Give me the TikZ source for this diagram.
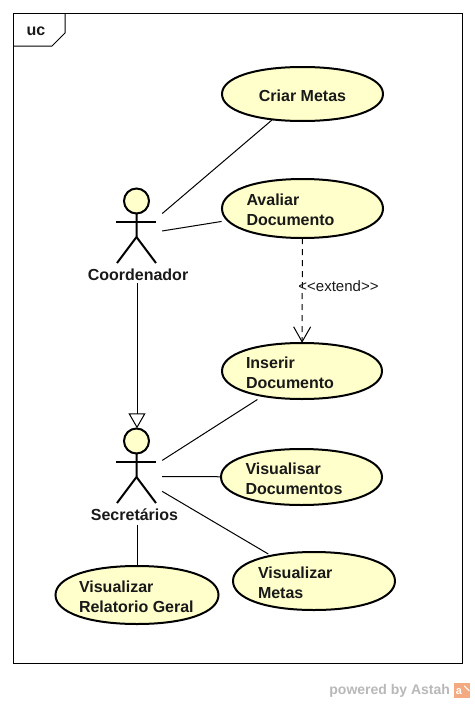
\documentclass[tikz,border=0pt]{standalone}
\usepackage{fontspec}
\setmainfont{Liberation Sans}
\usetikzlibrary{arrows.meta,shapes.geometric}
\definecolor{ucfill}{HTML}{FFFFCC}
\definecolor{logoc}{HTML}{F4AA80}
\definecolor{wmark}{HTML}{B8B8B8}
\tikzset{
  x=1pt,y=-1pt,
  lbl/.style={font=\fontsize{16}{20}\selectfont\bfseries,text=black!90},
  ucase/.style={ellipse,draw=none,inner sep=0pt},
  uctext/.style={inner sep=0pt,align=left,lbl},
  ucpath/.style={draw=black,line width=2pt,fill=ucfill},
  actorbox/.style={draw=none,minimum width=50pt,minimum height=96pt,inner sep=0pt},
  assoc/.style={line width=1pt,draw=black},
  limb/.style={line width=2pt,draw=black},
}
% use case: name, centre x, centre y, half width, half height, text
\newcommand{\ucnode}[6]{%
  \pgfmathsetmacro{\kx}{0.6*#4}\pgfmathsetmacro{\ky}{0.6*#5}%
  \path[ucpath] (#2-#4,#3) .. controls (#2-#4,#3-\ky) and (#2-\kx,#3-#5) .. (#2,#3-#5)
     .. controls (#2+\kx,#3-#5) and (#2+#4,#3-\ky) .. (#2+#4,#3)
     .. controls (#2+#4,#3+\ky) and (#2+\kx,#3+#5) .. (#2,#3+#5)
     .. controls (#2-\kx,#3+#5) and (#2-#4,#3+\ky) .. cycle;
  \node[ucase,minimum width=2*#4 pt,minimum height=2*#5 pt] (#1) at (#2,#3) {};
  \node[uctext] (#1t) at (#2,#3+1.5) {#6};}
\begin{document}
\begin{tikzpicture}
\useasboundingbox (0,0) rectangle (474,704);
\draw[line width=1pt] (13,13) rectangle (462,663);
\draw[line width=1pt] (13,46) -- (52,46) -- (65,33) -- (65,13);
\node[lbl] (uc) at (36,31.5) {uc};

\ucnode{criar}{302.5}{94}{80.5}{27}{Criar Metas}
\ucnode{avaliar}{302.5}{208.5}{80.5}{29.5}{\makebox[112pt][l]{Avaliar}\\\makebox[112pt][l]{Documento}}
\ucnode{inserir}{302}{371}{80}{28}{\makebox[112pt][l]{Inserir}\\\makebox[112pt][l]{Documento}}
\ucnode{vdocs}{301.5}{477}{80.5}{28}{\makebox[112pt][l]{Visualisar}\\\makebox[112pt][l]{Documentos}}
\ucnode{vmetas}{314}{581}{81}{29}{\makebox[112pt][l]{Visualizar}\\\makebox[112pt][l]{Metas}}
\ucnode{vrel}{137}{595}{81.5}{29}{\makebox[116pt][l]{Visualizar}\\\makebox[116pt][l]{Relatorio Geral}}

\node[actorbox] (coord) at (137,235) {};
\node[actorbox] (sec) at (137,476.5) {};

% Coordenador figure
\draw[limb,fill=ucfill] (136.5,201) circle (12.5);
\draw[limb] (136.5,213.5) -- (136.5,237) -- (117,263);
\draw[limb] (136.5,237) -- (156,263);
\draw[limb] (116,222) -- (156,222);
\node[lbl] (coordl) at (138,275) {Coordenador};

% Secretarios figure
\draw[limb,fill=ucfill] (136.5,441) circle (12.5);
\draw[limb] (136.5,453.5) -- (136.5,477) -- (117,503);
\draw[limb] (136.5,477) -- (156,503);
\draw[limb] (116,462) -- (156,462);
\node[lbl] (secl) at (134.5,515) {Secretários};

\draw[assoc,shorten >=1pt] (coord) -- (criar);
\draw[assoc,shorten >=7pt] (coord) -- (avaliar);
\draw[assoc,shorten >=7pt] (sec) -- (inserir);
\draw[assoc] (sec) -- (vdocs);
\draw[assoc,shorten >=4pt] (sec) -- (vmetas);
\draw[assoc] (sec) -- (vrel);
\draw[assoc,-{Triangle[open,length=15pt,width=17pt,line width=1pt]}] (coord) -- (sec);
\draw[assoc,dash pattern=on 6pt off 5pt,-{Straight Barb[length=15pt,width=17pt,line width=1pt]}] (avaliar) -- (inserir);
\node[font=\fontsize{15}{16}\selectfont,text=black!90] (ext) at (338.5,286) {<{}<extend>{}>};

\node[font=\fontsize{14}{16}\selectfont\bfseries,text=wmark,anchor=east] (pw) at (453.5,691) {powered by Astah};
\node[fill=logoc,minimum width=16pt,minimum height=15pt,inner sep=0pt] (logo) at (462,690.5) {};
\node[text=white,font=\fontsize{11}{11}\selectfont\bfseries] (loga) at (459,692) {a};
\draw[white,line width=1pt] (logo.north east) ++(-6,3) -- ++(5,5);
\end{tikzpicture}
\end{document}
